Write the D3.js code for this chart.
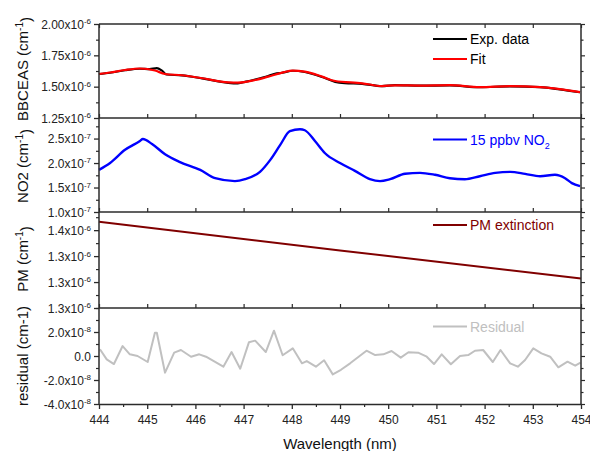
<!DOCTYPE html>
<html><head><meta charset="utf-8">
<script src="https://cdn.jsdelivr.net/npm/d3@7"></script>
<style>body{margin:0;background:#fff}svg{display:block;font-family:Arial,"Liberation Sans",sans-serif}</style>
</head><body><svg id="c" width="590" height="451"></svg>
<script>
// ---- data (wavelength nm, value in panel units) ----
const xTicks = [444,445,446,447,448,449,450,451,452,453,454];

// BBCEAS, units of 1e-6 cm^-1
const expData = [[444.00,1.601],[444.23,1.611],[444.54,1.631],[444.85,1.643],[445.05,1.640],[445.20,1.648],[445.30,1.630],[445.40,1.597],[445.72,1.590],[446.14,1.566],[446.68,1.531],[446.88,1.527],[447.05,1.540],[447.24,1.557],[447.51,1.585],[447.65,1.603],[447.80,1.611],[448.02,1.627],[448.27,1.617],[448.63,1.577],[448.90,1.538],[449.10,1.528],[449.46,1.523],[449.87,1.504],[450.14,1.512],[450.66,1.508],[451.28,1.510],[451.90,1.496],[452.53,1.503],[453.15,1.496],[453.56,1.478],[453.98,1.455]];
const fitData = [[444.00,1.601],[444.23,1.613],[444.54,1.633],[444.85,1.645],[445.16,1.629],[445.37,1.601],[445.72,1.591],[446.14,1.567],[446.68,1.535],[446.88,1.532],[447.24,1.553],[447.51,1.580],[447.80,1.612],[448.02,1.628],[448.27,1.620],[448.63,1.580],[448.90,1.545],[449.46,1.527],[449.87,1.505],[450.14,1.511],[450.66,1.509],[451.28,1.513],[451.90,1.497],[452.53,1.505],[453.15,1.497],[453.56,1.481],[453.98,1.457]];
const bbTicks = [1.25,1.50,1.75,2.00];
const bbLabels = ["1.25","1.50","1.75","2.00"];

// NO2, units of 1e-7 cm^-1
const no2Data = [[444.00,1.86],[444.23,2.00],[444.54,2.27],[444.85,2.45],[444.91,2.49],[445.10,2.39],[445.37,2.18],[445.68,2.02],[446.10,1.86],[446.41,1.69],[446.82,1.63],[447.03,1.67],[447.34,1.82],[447.55,2.06],[447.76,2.37],[447.96,2.65],[448.17,2.69],[448.27,2.67],[448.48,2.45],[448.69,2.20],[449.00,2.00],[449.31,1.84],[449.62,1.67],[449.83,1.63],[450.04,1.67],[450.35,1.78],[450.66,1.80],[450.97,1.76],[451.28,1.69],[451.59,1.67],[451.90,1.73],[452.22,1.80],[452.53,1.82],[452.84,1.78],[453.15,1.73],[453.46,1.76],[453.67,1.69],[453.81,1.59],[453.98,1.53]];
const no2Ticks = [1.0,1.5,2.0,2.5];
const no2Labels = ["1.0","1.5","2.0","2.5"];

// PM extinction, units of 1e-6 cm^-1
const pmData = [[444.0,1.416],[449.0,1.361],[454.0,1.307]];
const pmTicks = [1.25,1.30,1.35,1.40];
const pmLabels = ["1.3","1.3","1.3","1.4"];

// residual, units of 1e-8 cm^-1
const residData = [[444.02,0.56],[444.16,-0.28],[444.31,-0.67],[444.49,0.83],[444.64,0.14],[444.80,0.00],[445.01,-0.50],[445.16,1.94],[445.20,1.94],[445.37,-1.39],[445.56,0.28],[445.70,0.50],[445.91,-0.06],[446.08,0.14],[446.22,-0.06],[446.58,-0.89],[446.75,0.33],[446.93,-1.06],[447.11,1.14],[447.24,1.28],[447.46,0.33],[447.63,2.11],[447.81,0.06],[448.02,0.64],[448.21,-0.61],[448.31,-0.42],[448.50,-0.89],[448.67,-0.36],[448.85,-1.53],[449.02,-1.15],[449.21,-0.61],[449.55,0.44],[449.73,0.08],[449.90,0.14],[450.07,0.42],[450.26,-0.14],[450.42,0.31],[450.62,0.28],[450.80,-0.06],[450.95,-0.67],[451.11,0.14],[451.30,-0.69],[451.49,0.00],[451.66,0.08],[451.80,0.44],[451.97,0.50],[452.17,-0.50],[452.33,0.50],[452.53,-0.61],[452.69,-0.89],[452.84,-0.33],[453.01,0.64],[453.18,0.22],[453.36,-0.06],[453.53,-0.94],[453.72,-0.47],[453.88,-0.81],[453.99,-0.56]];
const resTicks = [-4,-2,0,2];
const resLabels = ["-4.0","-2.0","0.0","2.0"];

// ---- layout ----
const svg = d3.select("#c");
const X0 = 99, X1 = 581;
const x = d3.scaleLinear().domain([444,454]).range([X0,X1]);
const axisColor = "#2b2b2b";

const panels = [
  {top:24, bottom:118, domain:[1.25,2.00], ticks:bbTicks, labels:bbLabels, exp:"-6", step:0.25, tcy:69,
   title:["BBCEAS (cm","-1",")"], series:[{d:expData,c:"#000000",w:2.2},{d:fitData,c:"#ff0000",w:2.2}], curve:d3.curveMonotoneX,
   legend:[{t:"Exp. data",c:"#000000",tc:"#000"},{t:"Fit",c:"#ff0000",tc:"#000"}]},
  {top:118, bottom:212, domain:[1.0,2.92], ticks:no2Ticks, labels:no2Labels, exp:"-7", step:0.5, tcy:166,
   title:["NO2 (cm","-1",")"], series:[{d:no2Data,c:"#0000ff",w:2.4}], curve:d3.curveMonotoneX,
   legend:[{t:"15 ppbv NO",sub:"2",c:"#0000ff",tc:"#0000ff"}]},
  {top:212, bottom:308, domain:[1.25,1.435], ticks:pmTicks, labels:pmLabels, exp:"-6", step:0.05, tcy:259,
   title:["PM (cm","-1",")"], series:[{d:pmData,c:"#800000",w:2}], curve:d3.curveLinear,
   legend:[{t:"PM extinction",c:"#800000",tc:"#800000"}]},
  {top:308, bottom:404, domain:[-4,4], ticks:resTicks, labels:resLabels, exp:"-8", step:2, tcy:356,
   title:["residual (cm-1)"], series:[{d:residData,c:"#c0c0c0",w:2}], curve:d3.curveLinear,
   legend:[{t:"Residual",c:"#c0c0c0",tc:"#c0c0c0"}]}
];

panels.forEach((p,i)=>{
  const y = d3.scaleLinear().domain(p.domain).range([p.bottom,p.top]);
  const minors = [];
  for (let k=0;k<p.ticks.length;k++){ const m = p.ticks[k]+p.step/2; if (m < p.domain[1]) minors.push(m); }
  if (i===3) minors.push(4);
  const line = d3.line().x(d=>x(d[0])).y(d=>y(d[1])).curve(p.curve);
  p.series.forEach(s=>{
    svg.append("path").datum(s.d).attr("d",line).attr("fill","none")
      .attr("stroke",s.c).attr("stroke-width",s.w).attr("stroke-linejoin","round");
  });
  const gL = svg.append("g").attr("transform",`translate(${X0},0)`)
    .call(d3.axisLeft(y).tickValues(p.ticks).tickSize(5).tickSizeOuter(0).tickFormat((d,k)=>""));
  gL.select(".domain").remove();
  gL.selectAll("line").attr("stroke",axisColor).attr("stroke-width",1.3);
  gL.selectAll("text").each(function(d,k){
    const t = d3.select(this).attr("x",-8).attr("dy","0.36em").attr("font-size",12).attr("fill","#222")
      .attr("font-family","Arial, 'Liberation Sans', sans-serif");
    const lab = p.labels[k];
    if (lab === "0.0") { t.text(lab); return; }
    t.append("tspan").text(lab+"x10");
    t.append("tspan").attr("dy","-0.55em").attr("font-size",8).text(p.exp);
  });
  const gLm = svg.append("g").attr("transform",`translate(${X0},0)`)
    .call(d3.axisLeft(y).tickValues(minors).tickSize(3).tickSizeOuter(0).tickFormat(""));
  gLm.select(".domain").remove();
  gLm.selectAll("line").attr("stroke",axisColor).attr("stroke-width",1.2);
  const gR = svg.append("g").attr("transform",`translate(${X1},0)`)
    .call(d3.axisRight(y).tickValues(p.ticks).tickSize(4).tickSizeOuter(0).tickFormat(""));
  gR.select(".domain").remove();
  gR.selectAll("line").attr("stroke",axisColor).attr("stroke-width",1.2);
  const gRm = svg.append("g").attr("transform",`translate(${X1},0)`)
    .call(d3.axisRight(y).tickValues(minors).tickSize(2.5).tickSizeOuter(0).tickFormat(""));
  gRm.select(".domain").remove();
  gRm.selectAll("line").attr("stroke",axisColor).attr("stroke-width",1.2);
  if (i===0) {
    const gT = svg.append("g").attr("transform",`translate(0,${p.top})`)
      .call(d3.axisBottom(x).tickValues(xTicks).tickSize(4).tickSizeOuter(0).tickFormat(""));
    gT.select(".domain").remove();
    gT.selectAll("line").attr("stroke",axisColor).attr("stroke-width",1.2);
  }
  if (i<3) {
    const gB = svg.append("g").attr("transform",`translate(0,${p.bottom})`)
      .call(d3.axisTop(x).tickValues(xTicks).tickSize(4).tickSizeOuter(0).tickFormat(""));
    gB.select(".domain").remove();
    gB.selectAll("line").attr("stroke",axisColor).attr("stroke-width",1.2);
  }
  svg.append("line").attr("x1",X0).attr("x2",X1).attr("y1",p.top).attr("y2",p.top).attr("stroke",axisColor).attr("stroke-width",1.5);
  const tt = svg.append("text").attr("transform",`translate(23,${p.tcy}) rotate(-90)`).attr("text-anchor","middle")
    .attr("dy","0.35em").attr("font-size",15).attr("fill","#111");
  tt.append("tspan").text(p.title[0]);
  if (p.title.length>1){
    tt.append("tspan").attr("dy","-0.5em").attr("font-size",10).text(p.title[1]);
    tt.append("tspan").attr("dy","0.5em").attr("font-size",15).text(p.title[2]);
  }
  p.legend.forEach((l,k)=>{
    const ly = (i===0? 39 : i===1? 139.5 : i===2? 225 : 326.5) + k*20;
    svg.append("line").attr("x1",433).attr("x2",467).attr("y1",ly).attr("y2",ly).attr("stroke",l.c).attr("stroke-width",2.2);
    const lt = svg.append("text").attr("x",470).attr("y",ly).attr("dy","0.36em").attr("font-size",14).attr("fill",l.tc);
    lt.append("tspan").text(l.t);
    if (l.sub) lt.append("tspan").attr("dy","0.45em").attr("font-size",9).text(l.sub);
  });
});

svg.append("line").attr("x1",X0).attr("x2",X0).attr("y1",24).attr("y2",404).attr("stroke",axisColor).attr("stroke-width",1.5);
svg.append("line").attr("x1",X1).attr("x2",X1).attr("y1",24).attr("y2",404).attr("stroke",axisColor).attr("stroke-width",1.5);

const gX = svg.append("g").attr("transform","translate(0,404)")
  .call(d3.axisBottom(x).tickValues(xTicks).tickSize(5).tickSizeOuter(0).tickFormat(d3.format("d")));
gX.select(".domain").attr("stroke",axisColor).attr("stroke-width",1.5);
gX.selectAll("line").attr("stroke",axisColor).attr("stroke-width",1.3);
gX.selectAll("text").attr("font-size",12).attr("fill","#222").attr("y",9).attr("dy","0.95em")
  .attr("font-family","Arial, 'Liberation Sans', sans-serif");
const xMinor = xTicks.slice(0,-1).map(v=>v+0.5);
const gXm = svg.append("g").attr("transform","translate(0,404)")
  .call(d3.axisBottom(x).tickValues(xMinor).tickSize(3).tickSizeOuter(0).tickFormat(""));
gXm.select(".domain").remove();
gXm.selectAll("line").attr("stroke",axisColor).attr("stroke-width",1.2);

svg.append("text").attr("x",(X0+X1)/2).attr("y",449).attr("text-anchor","middle")
  .attr("font-size",15).attr("fill","#111").text("Wavelength (nm)");
</script></body></html>
